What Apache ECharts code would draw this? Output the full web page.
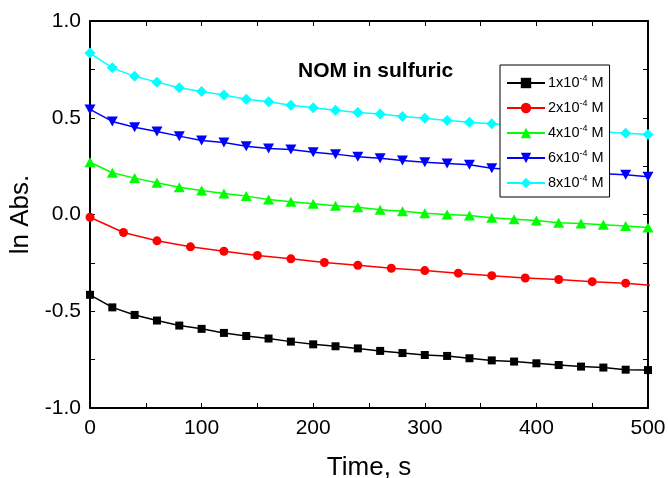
<!DOCTYPE html>
<html>
<head>
<meta charset="utf-8">
<script src="https://cdn.jsdelivr.net/npm/echarts@6/dist/echarts.min.js"></script>
<style>html,body{margin:0;padding:0;background:#fff}#c{width:668px;height:478px}</style>
</head>
<body>
<div id="c"></div>
<script>
// Time values (s)
var time20 = [0,20,40,60,80,100,120,140,160,180,200,220,240,260,280,300,320,340,360,380,400,420,440,460,480,500];
var time30 = [0,30,60,90,120,150,180,210,240,270,300,330,360,390,420,450,480,510];

// ln Abs. values
var s1 = [-0.415,-0.480,-0.519,-0.548,-0.574,-0.591,-0.612,-0.628,-0.641,-0.657,-0.671,-0.681,-0.692,-0.705,-0.716,-0.726,-0.731,-0.743,-0.754,-0.760,-0.769,-0.778,-0.786,-0.791,-0.802,-0.804];
var s2 = [-0.014,-0.093,-0.136,-0.167,-0.190,-0.212,-0.229,-0.248,-0.262,-0.278,-0.290,-0.303,-0.316,-0.328,-0.336,-0.347,-0.355,-0.370];
var s4 = [0.270,0.216,0.188,0.164,0.141,0.124,0.109,0.095,0.078,0.066,0.055,0.045,0.038,0.024,0.017,0.007,0.000,-0.005,-0.017,-0.024,-0.031,-0.043,-0.047,-0.053,-0.060,-0.067];
var s6 = [0.543,0.481,0.451,0.429,0.405,0.383,0.372,0.353,0.341,0.336,0.322,0.312,0.298,0.291,0.279,0.270,0.264,0.257,0.239,0.233,0.227,0.220,0.214,0.210,0.205,0.195];
var s8 = [0.834,0.758,0.714,0.684,0.655,0.636,0.617,0.596,0.583,0.565,0.552,0.539,0.527,0.519,0.507,0.498,0.486,0.477,0.469,0.460,0.452,0.443,0.435,0.427,0.420,0.414];

var seriesNames = ['1x10-4 M','2x10-4 M','4x10-4 M','6x10-4 M','8x10-4 M'];
var xTicks = [0,100,200,300,400,500];
var yTicks = [-1.0,-0.5,0.0,0.5,1.0];

function pairs(t, v){ return t.map(function(x,i){ return [x, v[i]]; }); }

var chart = echarts.init(document.getElementById('c'), null, {renderer:'canvas'});
var font = 'Liberation Sans, Arial, sans-serif';

function mk(name, t, v, color, symbol, size, rot){
  return {
    name: name, type: 'line', data: pairs(t, v),
    symbol: symbol, symbolSize: size, symbolRotate: rot || 0,
    showAllSymbol: true, clip: true,
    lineStyle: {color: color, width: 1.5},
    itemStyle: {color: color},
    emphasis: {disabled: true},
    animation: false, z: 3
  };
}

var option = {
  backgroundColor: '#fff',
  animation: false,
  grid: {left: 90, right: 20, top: 21, bottom: 70, containLabel: false, outerBoundsMode: 'none'},
  title: {
    text: 'NOM in sulfuric', left: 293, top: 56,
    textStyle: {fontFamily: font, fontWeight: 'bold', fontSize: 21, color: '#000'}
  },
  legend: {
    orient: 'vertical', left: 500, top: 65,
    padding: [9, 6, 5, 6],
    itemWidth: 38, itemHeight: 13, itemGap: 7,
    backgroundColor: '#fff', borderColor: '#000', borderWidth: 1,
    data: seriesNames,
    formatter: function(n){ return n.replace('10-4', '10{sup|-4}'); },
    textStyle: {
      fontFamily: font, fontSize: 14.5, color: '#000', lineHeight: 14, padding: [0,0,0,-2],
      rich: { sup: {fontFamily: font, fontSize: 9, lineHeight: 14, padding: [0,0,9,0], color:'#000'} }
    },
    z: 10
  },
  xAxis: [{
    type: 'value', min: 0, max: 500, interval: 50, position: 'bottom',
    name: 'Time, s', nameLocation: 'middle', nameGap: 47,
    nameTextStyle: {fontFamily: font, fontSize: 26, color: '#000'},
    axisLine: {show: true, onZero: false, lineStyle: {color: '#000', width: 2}},
    axisTick: {show: true, inside: true, length: 5, lineStyle: {color: '#000', width: 1}},
    axisLabel: {
      fontFamily: font, fontSize: 21, color: '#000', margin: 10,
      formatter: function(v){ return xTicks.indexOf(v) >= 0 ? String(v) : ''; }
    },
    splitLine: {show: false}
  },{
    type: 'value', min: 0, max: 500, interval: 50, position: 'top',
    axisLine: {show: true, onZero: false, lineStyle: {color: '#000', width: 2}},
    axisTick: {show: true, inside: true, length: 5, lineStyle: {color: '#000', width: 1}},
    axisLabel: {show: false}, splitLine: {show: false}
  }],
  yAxis: [{
    type: 'value', min: -1, max: 1, interval: 0.25, position: 'left',
    name: 'ln Abs.', nameLocation: 'middle', nameGap: 56, nameRotate: 90,
    nameTextStyle: {fontFamily: font, fontSize: 26, color: '#000'},
    axisLine: {show: true, onZero: false, lineStyle: {color: '#000', width: 2}},
    axisTick: {show: true, inside: true, length: 5, lineStyle: {color: '#000', width: 1}},
    axisLabel: {
      fontFamily: font, fontSize: 21, color: '#000', margin: 9,
      formatter: function(v){
        for (var i=0;i<yTicks.length;i++){ if (Math.abs(yTicks[i]-v) < 1e-9) return yTicks[i].toFixed(1); }
        return '';
      }
    },
    splitLine: {show: false}
  },{
    type: 'value', min: -1, max: 1, interval: 0.25, position: 'right',
    axisLine: {show: true, onZero: false, lineStyle: {color: '#000', width: 2}},
    axisTick: {show: true, inside: true, length: 5, lineStyle: {color: '#000', width: 1}},
    axisLabel: {show: false}, splitLine: {show: false}
  }],
  series: [
    mk(seriesNames[0], time20, s1, '#000000', 'rect', 8),
    mk(seriesNames[1], time30, s2, '#ff0000', 'circle', 9),
    mk(seriesNames[2], time20, s4, '#00ff00', 'triangle', [11, 10]),
    mk(seriesNames[3], time20, s6, '#0000ff', 'triangle', [11, 10], 180),
    mk(seriesNames[4], time20, s8, '#00ffff', 'diamond', 11)
  ]
};
chart.setOption(option);
</script>
</body>
</html>
